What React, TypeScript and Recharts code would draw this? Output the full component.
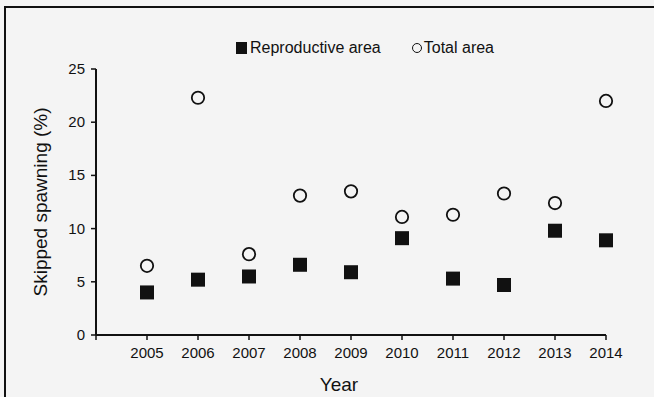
import { Legend, Scatter, ScatterChart, XAxis, YAxis } from "recharts";

const years = [2005, 2006, 2007, 2008, 2009, 2010, 2011, 2012, 2013, 2014];
const reproductiveArea = [4.0, 5.2, 5.5, 6.6, 5.9, 9.1, 5.3, 4.7, 9.8, 8.9];
const totalArea = [6.5, 22.3, 7.6, 13.1, 13.5, 11.1, 11.3, 13.3, 12.4, 22.0];
const xTicks = [2004, ...years];
const yTicks = [0, 5, 10, 15, 20, 25];

const reproData = years.map((year, i) => ({ year, value: reproductiveArea[i] }));
const totalData = years.map((year, i) => ({ year, value: totalArea[i] }));

const ink = "#111";
const font = "'Liberation Sans', Arial, sans-serif";

const SquareMark = (props: any) => {
  const { cx, cy } = props;
  if (cx == null || cy == null) return null;
  return <rect x={cx - 7} y={cy - 7} width={14} height={14} fill={ink} />;
};

const CircleMark = (props: any) => {
  const { cx, cy } = props;
  if (cx == null || cy == null) return null;
  return <circle cx={cx} cy={cy} r={6.2} fill="none" stroke={ink} strokeWidth={1.8} />;
};

// year labels sit under each tick; the 2004 tick at the origin stays blank
const YearTick = (props: any) => {
  const { x, y, payload } = props;
  if (payload.value === 2004) return null;
  return (
    <text x={x} y={y + 12} textAnchor="middle" fill={ink} fontSize={15} fontFamily={font}>
      {payload.value}
    </text>
  );
};

const PercentTick = (props: any) => {
  const { x, y, payload } = props;
  return (
    <text x={x} y={y + 5} textAnchor="end" fill={ink} fontSize={15} fontFamily={font}>
      {payload.value}
    </text>
  );
};

function LegendRow() {
  return (
    <div style={{ display: "flex", alignItems: "center", fontFamily: font, fontSize: 16, color: ink }}>
      <span style={{ width: 11, height: 12, background: ink, display: "inline-block", marginRight: 3 }} />
      <span>Reproductive area</span>
      <span
        style={{
          width: 8,
          height: 8,
          border: `1.6px solid ${ink}`,
          borderRadius: "50%",
          display: "inline-block",
          marginLeft: 31,
          marginRight: 2,
        }}
      />
      <span>Total area</span>
    </div>
  );
}

export default function App() {
  return (
    <div style={{ position: "relative", width: 654, height: 397, background: "#f4f4f4", overflow: "hidden" }}>
      <style>{"body{margin:0}"}</style>
      <div
        style={{
          position: "absolute",
          left: 4,
          top: 6,
          right: -4,
          bottom: -4,
          borderLeft: `2px solid ${ink}`,
          borderTop: `2px solid ${ink}`,
        }}
      />
      <ScatterChart
        width={654}
        height={397}
        margin={{ top: 51, right: 48, bottom: 0, left: 0 }}
        style={{ position: "absolute", left: 0, top: 0 }}
      >
        <XAxis
          type="number"
          dataKey="year"
          domain={[2004, 2014]}
          ticks={xTicks}
          interval={0}
          height={62}
          tickSize={5}
          tickMargin={6}
          stroke={ink}
          axisLine={{ stroke: ink, strokeWidth: 2 }}
          tickLine={{ stroke: ink, strokeWidth: 1.5 }}
          tick={YearTick}
          label={{
            content: ({ viewBox }: any) => (
              <text
                x={viewBox.x + viewBox.width / 2 - 12}
                y={384}
                textAnchor="middle"
                dominantBaseline="central"
                fill={ink}
                fontSize={19}
                fontFamily={font}
              >
                Year
              </text>
            ),
          }}
        />
        <YAxis
          type="number"
          dataKey="value"
          domain={[0, 25]}
          ticks={yTicks}
          interval={0}
          width={96}
          tickSize={5}
          tickMargin={6}
          stroke={ink}
          axisLine={{ stroke: ink, strokeWidth: 2 }}
          tickLine={{ stroke: ink, strokeWidth: 1.5 }}
          tick={PercentTick}
          label={{
            content: ({ viewBox }: any) => {
              const cx = 40;
              const cy = viewBox.y + viewBox.height / 2;
              return (
                <text
                  x={cx}
                  y={cy}
                  transform={`rotate(-90, ${cx}, ${cy})`}
                  textAnchor="middle"
                  dominantBaseline="central"
                  fill={ink}
                  fontSize={19}
                  fontFamily={font}
                >
                  Skipped spawning (%)
                </text>
              );
            },
          }}
        />
        <Legend
          verticalAlign="top"
          content={() => <LegendRow />}
          wrapperStyle={{ position: "absolute", top: 39, left: 236, width: "auto" }}
        />
        <Scatter name="Reproductive area" data={reproData} shape={SquareMark} isAnimationActive={false} />
        <Scatter name="Total area" data={totalData} shape={CircleMark} isAnimationActive={false} />
      </ScatterChart>
    </div>
  );
}
